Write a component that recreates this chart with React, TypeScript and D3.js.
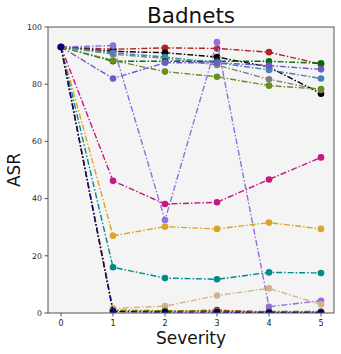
import React from "react";
import * as d3 from "d3";

const severities = [0, 1, 2, 3, 4, 5];
const xTicks = [0, 1, 2, 3, 4, 5];
const yTicks = [0, 20, 40, 60, 80, 100];

const seriesNames = [
  "firebrick", "black", "gray", "steelblue", "green", "olivedrab", "slateblue",
  "mediumpurple", "mediumvioletred", "goldenrod", "teal", "tan", "brown", "olive", "navy",
];
const seriesColors = [
  "#b22222", "#000000", "#808080", "#4682b4", "#007000", "#6b8e23", "#6a5acd",
  "#9370db", "#c71585", "#daa520", "#008b8b", "#d2b48c", "#a52a2a", "#808000", "#000080",
];
const seriesValues = [
  [93, 92.2, 92.7, 92.5, 91.2, 87],
  [93, 91.5, 91, 89.5, 86, 76.7],
  [93, 90.5, 89, 86.7, 81.7, 78],
  [93, 91, 89.5, 87.5, 85, 82],
  [93, 88, 88, 88, 88, 87.3],
  [93, 88.3, 84.4, 82.6, 79.5, 78.3],
  [93, 82, 87.5, 87.5, 86.5, 85.2],
  [93, 93.5, 32.5, 94.7, 2.2, 4.3],
  [93, 46.2, 38.1, 38.7, 46.7, 54.4],
  [93, 27, 30.2, 29.4, 31.6, 29.4],
  [93, 16, 12.2, 11.8, 14.2, 14],
  [93, 1.6, 2.4, 6.1, 8.6, 3],
  [93, 0.8, 0.6, 1, 0.3, 0.3],
  [93, 1, 0.8, 0.6, 0.5, 0.5],
  [93, 0.5, 0.3, 0.3, 0.2, 0.2],
];

const W = 341, H = 354;
const M = { left: 48, right: 334, top: 27, bottom: 313 };

export default function App() {
  const x = d3.scaleLinear().domain([-0.25, 5.25]).range([M.left, M.right]);
  const y = d3.scaleLinear().domain([0, 100]).range([M.bottom, M.top]);
  const line = d3.line<number>().x((_, i) => x(severities[i])).y((v) => y(v));
  const font = "DejaVu Sans, sans-serif";
  return (
    <svg width={W} height={H} style={{ position: "absolute", left: 0, top: 0 }}>
      <defs>
        <clipPath id="plot">
          <rect x={M.left} y={M.top - 4} width={M.right - M.left} height={M.bottom - M.top + 4} />
        </clipPath>
      </defs>
      <rect x={0} y={0} width={W} height={H} fill="#fff" />
      <rect x={M.left} y={M.top} width={M.right - M.left} height={M.bottom - M.top} fill="#f4f4f4" />
      <g clipPath="url(#plot)">
        {seriesValues.map((vals, si) => (
          <g key={seriesNames[si]}>
            <path d={line(vals) || ""} fill="none" stroke={seriesColors[si]} strokeWidth={1.4}
              strokeDasharray="6,2,1.5,2" />
            {vals.map((v, i) => (
              <circle key={i} cx={x(severities[i])} cy={y(v)} r={3.3} fill={seriesColors[si]} />
            ))}
          </g>
        ))}
      </g>
      <rect x={M.left} y={M.top} width={M.right - M.left} height={M.bottom - M.top} fill="none" stroke="#555" strokeWidth={1} />
      {xTicks.map((t) => (
        <g key={"x" + t}>
          <line x1={x(t)} x2={x(t)} y1={M.bottom} y2={M.bottom + 3.5} stroke="#555" />
          <text x={x(t)} y={M.bottom + 12.5} fontSize={8} fontFamily={font} textAnchor="middle" fill="#222">{t}</text>
        </g>
      ))}
      {yTicks.map((t) => (
        <g key={"y" + t}>
          <line x1={M.left - 3.5} x2={M.left} y1={y(t)} y2={y(t)} stroke="#555" />
          <text x={M.left - 6} y={y(t) + 2.8} fontSize={7.8} fontFamily={font} textAnchor="end" fill="#222">{t}</text>
        </g>
      ))}
      <text x={(M.left + M.right) / 2} y={22.5} fontSize={21.5} fontFamily={font} textAnchor="middle" fill="#111">Badnets</text>
      <text x={(M.left + M.right) / 2} y={344} fontSize={17} fontFamily={font} textAnchor="middle" fill="#111">Severity</text>
      <text transform={`translate(20,${(M.top + M.bottom) / 2}) rotate(-90)`} fontSize={17} fontFamily={font} textAnchor="middle" fill="#111">ASR</text>
    </svg>
  );
}
